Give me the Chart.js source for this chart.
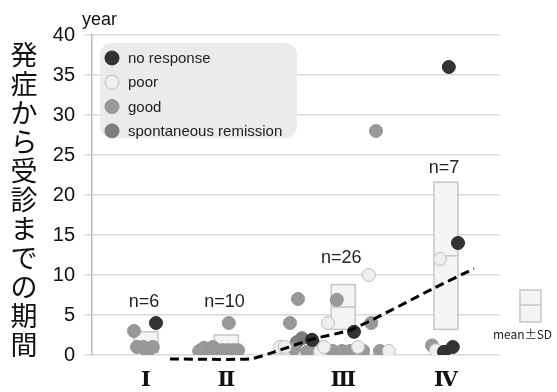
<!DOCTYPE html>
<html>
<head>
<meta charset="utf-8">
<script src="https://cdn.jsdelivr.net/npm/chart.js@4"></script>
<style>
  html, body { margin: 0; padding: 0; background: #fff; }
  #wrap { width: 557px; height: 392px; }
</style>
</head>
<body>
<div id="wrap"><canvas id="chart" width="557" height="392"></canvas></div>
<script>
// stages on the x axis
const stageNames = ['Ⅰ', 'Ⅱ', 'Ⅲ', 'Ⅳ'];
const stageX = [0.675, 1.68, 3.14, 4.425];
const stageMean = [1.6, 1.3, 6.0, 12.4];
const stageSD = [1.3, 1.2, 2.8, 9.2];
const stageN = ['n=6', 'n=10', 'n=26', 'n=7'];
const nLabelY = [6.6, 6.6, 12.1, 23.4];

// y axis ticks
const yTicks = [0, 5, 10, 15, 20, 25, 30, 35, 40];

// points (x = stage position + jitter, y = years)
const noResponseX = [0.80, 3.275, 2.75, 4.575, 4.40, 4.51, 4.46];
const noResponseY = [4.0, 2.9, 1.9, 14.0, 0.4, 1.0, 36];
const poorX = [2.95, 2.35, 2.41, 2.85, 2.90, 3.325, 3.71, 3.46, 4.35, 4.30];
const poorY = [4.0, 1.0, 1.0, 0.4, 1.0, 1.0, 0.5, 10.0, 12.0, 0.6];
const goodX = [0.525, 0.5625, 0.64, 0.69, 0.76, 1.71, 1.34, 1.40, 1.475, 1.51, 1.575, 1.64, 1.70, 1.76, 1.825,
               2.575, 3.06, 2.475, 3.49, 2.525, 2.69, 2.79, 3.01, 3.125, 3.225, 3.39, 3.6, 3.55, 2.74, 4.25];
const goodY = [3.0, 1.0, 1.0, 0.4, 1.0, 4.0, 0.5, 0.9, 0.5, 1.0, 0.6, 0.6, 0.6, 0.6, 0.6,
               7.0, 6.9, 4.0, 4.0, 0.8, 0.4, 1.2, 0.5, 0.5, 0.5, 0.5, 0.5, 28, 0.4, 1.2];
const remissionX = [2.625, 2.56];
const remissionY = [2.1, 1.6];

// dashed trend line
const trendX = [0.975, 1.975, 2.225, 2.7625, 3.25, 4.2625, 4.775];
const trendY = [-0.5, -0.5, 0.2, 2.0, 3.2, 8.3, 10.8];

const yTitle = '発症から受診までの期間';

function pts(xs, ys) {
    return xs.map((x, i) => ({ x: x, y: ys[i] }));
}

function dotSet(label, xs, ys, fill, border) {
    return {
        type: 'scatter',
        label: label,
        data: pts(xs, ys),
        backgroundColor: fill,
        borderColor: border,
        borderWidth: 1,
        pointRadius: 6.5,
        pointHoverRadius: 6.5,
        legendDot: true
    };
}

const extras = {
    id: 'extras',
    beforeDatasetsDraw(chart) {
        const ctx = chart.ctx;
        const xs = chart.scales.x, ys = chart.scales.y;
        const area = chart.chartArea;
        ctx.save();

        // mean ± SD boxes
        stageX.forEach((sx, i) => {
            const cx = xs.getPixelForValue(sx);
            const top = ys.getPixelForValue(stageMean[i] + stageSD[i]);
            const bot = ys.getPixelForValue(Math.max(stageMean[i] - stageSD[i], 0.2));
            const mid = ys.getPixelForValue(stageMean[i]);
            ctx.fillStyle = '#f4f4f4';
            ctx.strokeStyle = '#c6c6c6';
            ctx.lineWidth = 1.5;
            ctx.fillRect(cx - 12, top, 24, bot - top);
            ctx.strokeRect(cx - 12, top, 24, bot - top);
            ctx.beginPath();
            ctx.moveTo(cx - 12, mid);
            ctx.lineTo(cx + 12, mid);
            ctx.stroke();
        });

        // legend box
        const lx = area.left + 8, ly = area.top + 8;
        ctx.fillStyle = '#ebebeb';
        ctx.beginPath();
        ctx.roundRect(lx, ly, 197, 95, 12);
        ctx.fill();
        const items = chart.data.datasets.filter(d => d.legendDot);
        ctx.font = '15px "Liberation Sans", Arial, sans-serif';
        ctx.textBaseline = 'middle';
        ctx.textAlign = 'left';
        items.forEach((d, i) => {
            const y = ly + 15 + i * 24.3;
            ctx.beginPath();
            ctx.arc(lx + 12, y, 7, 0, Math.PI * 2);
            ctx.fillStyle = d.backgroundColor;
            ctx.fill();
            ctx.strokeStyle = d.borderColor;
            ctx.lineWidth = 1;
            ctx.stroke();
            ctx.fillStyle = '#222';
            ctx.fillText(d.label, lx + 28, y + 1);
        });
        ctx.restore();
    },
    afterDatasetsDraw(chart) {
        const ctx = chart.ctx;
        const xs = chart.scales.x, ys = chart.scales.y;
        ctx.save();
        ctx.font = '18px "Liberation Sans", Arial, sans-serif';
        ctx.fillStyle = '#222';
        ctx.textAlign = 'center';
        ctx.textBaseline = 'middle';
        stageN.forEach((t, i) => {
            ctx.fillText(t, xs.getPixelForValue(stageX[i]) - 2, ys.getPixelForValue(nLabelY[i]));
        });
        ctx.restore();
    },
    afterDraw(chart) {
        const ctx = chart.ctx;
        const area = chart.chartArea;
        ctx.save();
        // vertical japanese title
        ctx.font = '27px "Noto Sans CJK JP", sans-serif';
        ctx.fillStyle = '#111';
        ctx.textAlign = 'center';
        ctx.textBaseline = 'middle';
        [...yTitle].forEach((ch, i) => {
            ctx.fillText(ch, 24, 55 + i * 29);
        });
        // unit
        ctx.font = '18px "Liberation Sans", Arial, sans-serif';
        ctx.textAlign = 'left';
        ctx.fillText('year', area.left - 10, 20);
        // mean ± SD key
        const kx = area.right + 20, ky = 290;
        ctx.fillStyle = '#f4f4f4';
        ctx.strokeStyle = '#c6c6c6';
        ctx.lineWidth = 1.5;
        ctx.fillRect(kx, ky, 21, 32);
        ctx.strokeRect(kx, ky, 21, 32);
        ctx.beginPath();
        ctx.moveTo(kx, ky + 15);
        ctx.lineTo(kx + 21, ky + 15);
        ctx.stroke();
        ctx.font = '12px "Noto Sans CJK JP", sans-serif';
        ctx.fillStyle = '#222';
        ctx.fillText('mean±SD', area.right - 7, ky + 44);
        ctx.restore();
    }
};

const ctx = document.getElementById('chart').getContext('2d');
const chart = new Chart(ctx, {
    data: {
        datasets: [
            {
                type: 'line',
                label: 'trend',
                data: pts(trendX, trendY),
                borderColor: '#000',
                borderWidth: 3,
                borderDash: [9, 5],
                pointRadius: 0,
                fill: false,
                tension: 0.2,
                clip: false
            },
            dotSet('no response', noResponseX, noResponseY, '#333333', '#2a2a2a'),
            dotSet('poor', poorX, poorY, '#efefef', '#bdbdbd'),
            dotSet('good', goodX, goodY, '#999999', '#939393'),
            dotSet('spontaneous remission', remissionX, remissionY, '#7d7d7d', '#777777')
        ]
    },
    options: {
        responsive: false,
        animation: false,
        layout: { padding: { left: 44, right: 57, top: 35, bottom: 0 } },
        plugins: {
            legend: { display: false },
            tooltip: { enabled: false }
        },
        scales: {
            x: {
                type: 'linear',
                min: 0,
                max: 5.1,
                afterBuildTicks: (s) => { s.ticks = stageX.map(v => ({ value: v })); },
                afterFit: (s) => { s.height = 37; },
                grid: { display: false, drawTicks: false },
                border: { display: false },
                ticks: {
                    autoSkip: false,
                    maxRotation: 0,
                    padding: 13,
                    color: '#111',
                    font: { family: '"DejaVu Serif", "Liberation Serif", serif', size: 21, weight: 'bold' },
                    callback: (v, i) => stageNames[i]
                }
            },
            y: {
                min: 0,
                max: 40,
                afterBuildTicks: (s) => { s.ticks = yTicks.map(v => ({ value: v })); },
                afterFit: (s) => { s.width = 48; },
                grid: { color: '#d9d9d9', lineWidth: 1.5, tickLength: 8 },
                border: { color: '#bbbbbb', width: 1.5 },
                ticks: {
                    padding: 9,
                    color: '#111',
                    font: { family: '"Liberation Sans", Arial, sans-serif', size: 20 }
                }
            }
        }
    },
    plugins: [extras]
});
</script>
</body>
</html>
